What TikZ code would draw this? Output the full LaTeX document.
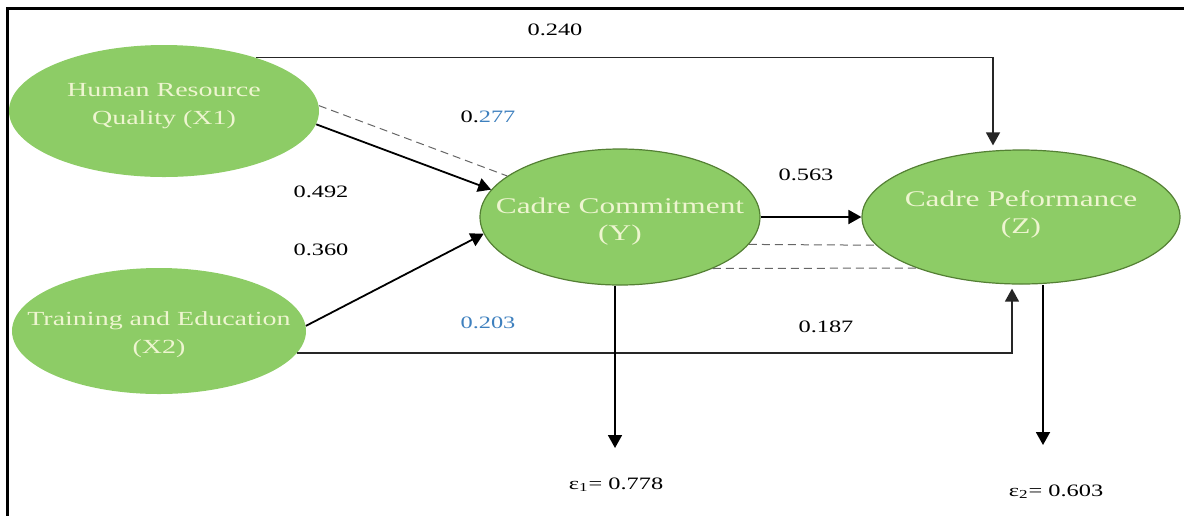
\documentclass[tikz,border=0pt]{standalone}
\usepackage{fontspec}
\setmainfont{Liberation Serif}[FakeStretch=1.4]
\usetikzlibrary{calc, arrows.meta, shapes.geometric}

\definecolor{latgreen}{RGB}{141,204,102}
\definecolor{latedge}{RGB}{84,128,52}
\definecolor{lattext}{RGB}{238,245,208}
\definecolor{coefblue}{RGB}{62,128,190}

% two centred lines that do not size the ellipse
\newcommand{\twoline}[3][0pt]{\makebox[0pt]{\raisebox{#1}{\smash{\begin{tabular}{@{}c@{}}#2\\#3\end{tabular}}}}}

\tikzset{
    latent/.style={ellipse, fill=latgreen, inner sep=0pt, text=lattext},
    exo/.style={latent, font=\fontsize{10}{14}\selectfont},
    endo/.style={latent, draw=latedge, line width=0.6pt, font=\fontsize{11.2}{13.5}\selectfont},
    coef/.style={font=\fontsize{8.7}{10}\selectfont},
    link/.style={->, line width=0.9pt},
    corr/.style={black!60, line width=0.5pt, dash pattern=on 4pt off 2.5pt}
}

\begin{document}
\begin{tikzpicture}[>={Triangle[length=6.5pt,width=7pt]}, x=0.5pt, y=-0.5pt]
    \useasboundingbox (0,0) rectangle (1184,516);
    \draw[line width=1.5pt] (1184,8) -- (7,8) -- (7,516);

    % exogenous
    \node[exo, minimum width=155pt, minimum height=66pt] (X1) at (164,111) {\twoline[1pt]{Human Resource}{Quality (X1)}};
    \node[exo, minimum width=147pt, minimum height=63pt] (X2) at (159,331) {\twoline[-7.5pt]{Training and Education}{(X2)}};
    % endogenous
    \node[endo, minimum width=140pt, minimum height=68pt] (Y) at (620,217) {\twoline[-10pt]{Cadre Commitment}{(Y)}};
    \node[endo, minimum width=159pt, minimum height=67pt] (Z) at (1021,217) {\twoline[-3.5pt]{Cadre Peformance}{(Z)}};

    % residuals
    \coordinate (e1tip) at (615,448);
    \coordinate (e2tip) at (1043,445);
    \node[coef] (e1) at (616,485) {ε\textsubscript{1}= 0.778};
    \node[coef] (e2) at (1056,492) {ε\textsubscript{2}= 0.603};

    % paths
    \draw[link, line width=0.7pt, black!85] (X1.30) -| ($(Z.north)+(-28,-4)$);
    \draw[link, line width=0.7pt, black!85] (X2.-9) -| ($(Z.south)+(-9,4)$);
    \draw[corr] (X1.2) -- (Y.160);
    \draw[link] (X1.-5) -- (Y.168);
    \draw[link] (X2.2) -- (Y.187);
    \draw[link] (Y) -- (Z);
    \draw[corr] (Y.-12) -- (Z.191);
    \draw[corr] (Y.-29) -- (Z.206);
    \draw[link] (Y.south -| e1tip) -- (e1tip);
    \draw[link] (Z.south -| e2tip) -- (e2tip);

    % coefficients
    \node[coef] (b240) at (555,30) {0.240};
    \node[coef] (b277) at (488,117) {0.\textcolor{coefblue}{277}};
    \node[coef] (b492) at (321,192) {0.492};
    \node[coef] (b360) at (321,250) {0.360};
    \node[coef, text=coefblue] (b203) at (488,323) {0.203};
    \node[coef] (b563) at (806,175) {0.563};
    \node[coef] (b187) at (826,327) {0.187};
\end{tikzpicture}
\end{document}
